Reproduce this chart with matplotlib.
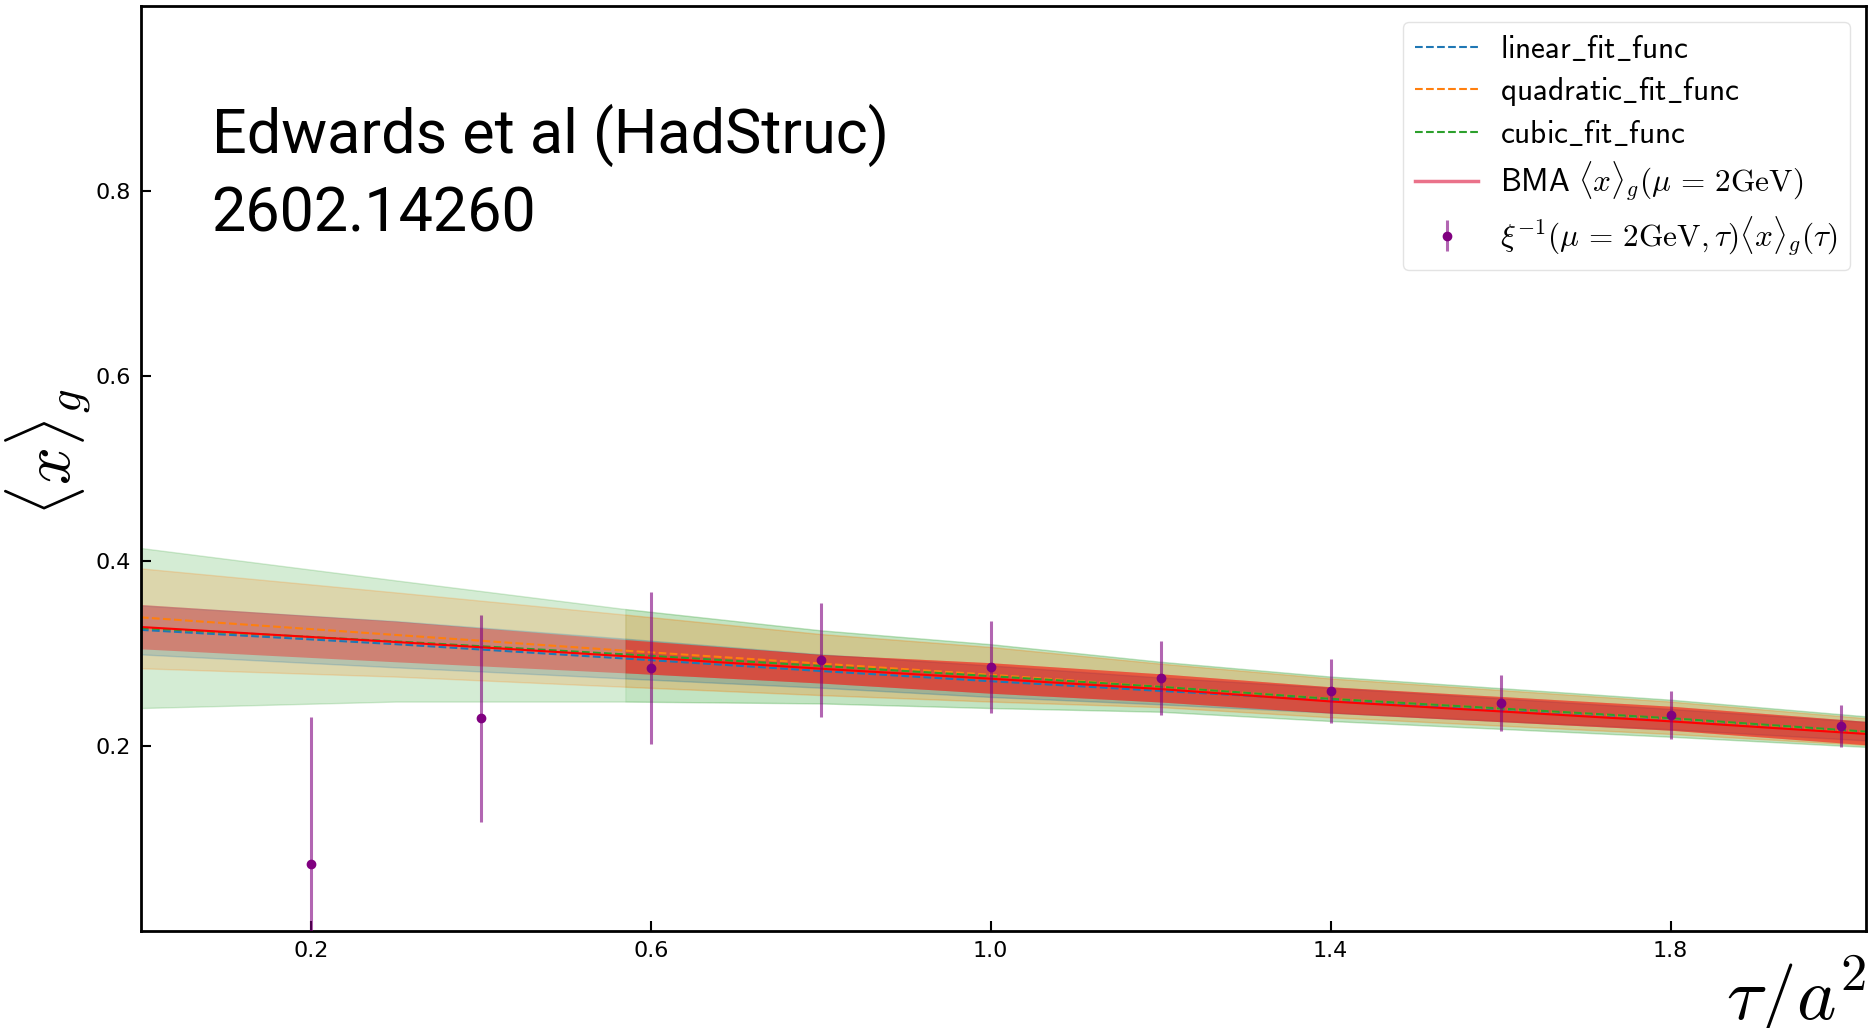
import matplotlib
matplotlib.use("Agg")
import matplotlib.pyplot as plt
from matplotlib.lines import Line2D
import numpy as np

plt.rcParams['mathtext.fontset'] = 'cm'
plt.rcParams['font.family'] = ['DejaVu Sans']

# ---- data ----
tau = [0.2, 0.4, 0.6, 0.8, 1.0, 1.2, 1.4, 1.6, 1.8, 2.0]
xg = [0.072, 0.2297, 0.284, 0.293, 0.2852, 0.2736, 0.2598, 0.2465, 0.2338, 0.2215]
xg_err = [0.159, 0.112, 0.082, 0.062, 0.050, 0.040, 0.0345, 0.030, 0.026, 0.0228]

tau_knots = [0.0, 0.3, 0.57, 0.8, 1.0, 1.2, 1.4, 1.8, 2.03]
fit_start = 2  # index of first knot of the fit range

cubic_hi = [0.414, 0.379, 0.348, 0.325, 0.310, 0.291, 0.275, 0.250, 0.232]
cubic_lo = [0.241, 0.248, 0.248, 0.246, 0.241, 0.237, 0.227, 0.210, 0.199]
cubic_mid = [0.3275, 0.313, 0.299, 0.2865, 0.2755, 0.264, 0.251, 0.230, 0.2155]

quad_hi = [0.392, 0.366, 0.342, 0.321, 0.307, 0.289, 0.273, 0.248, 0.230]
quad_lo = [0.284, 0.275, 0.264, 0.255, 0.248, 0.242, 0.231, 0.213, 0.201]
quad_mid = [0.339, 0.320, 0.303, 0.289, 0.277, 0.264, 0.251, 0.2295, 0.215]

lin_hi = [0.352, 0.335, 0.316, 0.299, 0.287, 0.274, 0.263, 0.240, 0.226]
lin_lo = [0.299, 0.285, 0.273, 0.263, 0.253, 0.245, 0.236, 0.218, 0.206]
lin_mid = [0.3255, 0.310, 0.2945, 0.281, 0.270, 0.2595, 0.2495, 0.229, 0.2145]

bma_hi = [0.353, 0.335, 0.315, 0.299, 0.290, 0.278, 0.264, 0.243, 0.2266]
bma_lo = [0.305, 0.291, 0.279, 0.268, 0.257, 0.2475, 0.2355, 0.217, 0.2013]
bma_mid = [0.3286, 0.3124, 0.297, 0.2835, 0.2727, 0.2615, 0.2481, 0.2266, 0.213]

xticks = [0.2, 0.6, 1.0, 1.4, 1.8]
yticks = [0.2, 0.4, 0.6, 0.8]

# ---- figure ----
fig = plt.figure(figsize=(18.69, 10.28), dpi=100)
ax = fig.add_axes([0.0754, 0.0944, 0.9230, 0.8998])

bands = [
    (cubic_lo, cubic_hi, 'tab:green', 0.2, 0.1),
    (quad_lo, quad_hi, 'tab:orange', 0.2, 0.1),
    (lin_lo, lin_hi, 'tab:blue', 0.2, 0.1),
]
for lo, hi, c, a1, a2 in bands:
    ax.fill_between(tau_knots, lo, hi, color=c, alpha=a1)
for lo, hi, c, a1, a2 in bands:
    ax.fill_between(tau_knots[fit_start:], lo[fit_start:], hi[fit_start:], color=c, alpha=a2)
ax.fill_between(tau_knots, bma_lo, bma_hi, color='red', alpha=0.33, lw=0)
ax.fill_between(tau_knots[fit_start:], bma_lo[fit_start:], bma_hi[fit_start:], color='red', alpha=0.33, lw=0)

ax.plot(tau_knots, lin_mid, ls='--', color='tab:blue', lw=1.5)
ax.plot(tau_knots, quad_mid, ls='--', color='tab:orange', lw=1.5)
ax.plot(tau_knots, cubic_mid, ls='--', color='tab:green', lw=1.5)
ax.plot(tau_knots, bma_mid, ls='-', color='red', lw=1.5)

eb = ax.errorbar(tau, xg, yerr=xg_err, fmt='o', color='purple', ms=6,
                 ecolor=(0.5, 0.0, 0.5, 0.6), elinewidth=2.2, capsize=0, zorder=5)

ax.set_xlim(0.0, 2.03)
ax.set_ylim(0.0, 1.0)
ax.set_xticks(xticks)
ax.set_xticklabels([f'{v:.1f}' for v in xticks])
ax.set_yticks(yticks)
ax.set_yticklabels([f'{v:.1f}' for v in yticks])
ax.tick_params(direction='in', length=7, width=1.5, labelsize=16, pad=7)
for s in ax.spines.values():
    s.set_linewidth(2.0)
    s.set_color('black')

ax.set_ylabel(r'$\langle x\rangle_g$', fontsize=48)
ax.yaxis.label.set_va('center')
ax.yaxis.set_label_coords(-0.054, 0.518)
ax.set_xlabel(r'$\tau/a^2$', fontsize=54, loc='right')
ax.xaxis.set_label_coords(1.0, -0.025)

ax.text(0.041, 0.894, 'Edwards et al (HadStruc)\n2602.14260', transform=ax.transAxes,
        fontsize=44, family='Roboto', va='top', ha='left', linespacing=1.4)

h_lin = Line2D([], [], ls='--', color='tab:blue', lw=1.5)
h_quad = Line2D([], [], ls='--', color='tab:orange', lw=1.5)
h_cub = Line2D([], [], ls='--', color='tab:green', lw=1.5)
h_bma = Line2D([], [], color='crimson', alpha=0.6, lw=2.5)
handles = [h_lin, h_quad, h_cub, h_bma, eb]
labels = [r'$\mathsf{linear\_fit\_func}$',
          r'$\mathsf{quadratic\_fit\_func}$',
          r'$\mathsf{cubic\_fit\_func}$',
          r'$\mathsf{BMA}\ \langle x\rangle_g(\mu\,=\,2\mathrm{GeV})$',
          r'$\xi^{-1}(\mu\,=\,2\mathrm{GeV},\tau)\langle x\rangle_g(\tau)$']
leg = ax.legend(handles, labels, loc='upper right', fontsize=22.5, frameon=True,
                fancybox=True, framealpha=0.8, edgecolor='#dddddd', handlelength=2.0,
                handletextpad=0.7, borderaxespad=0.5, labelspacing=0.35)

fig.savefig('out.png', dpi=100)
